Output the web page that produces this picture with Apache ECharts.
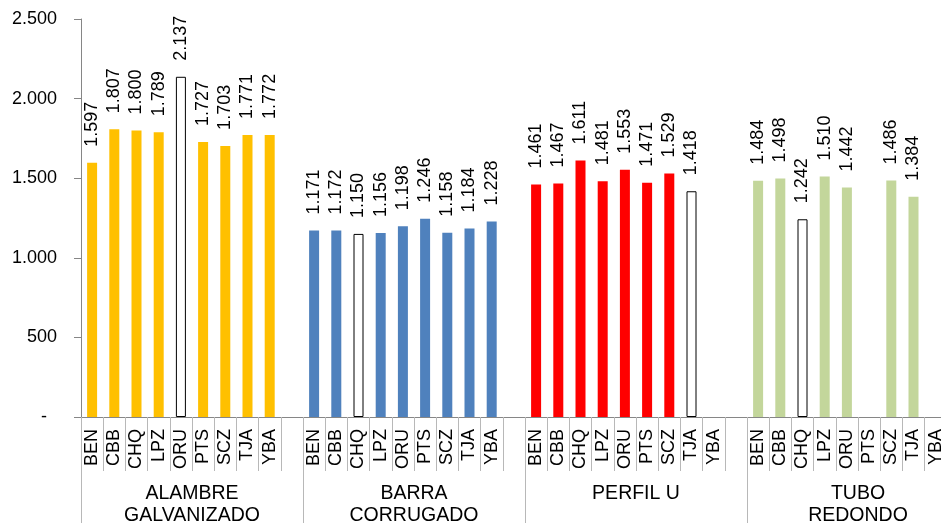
<!DOCTYPE html>
<html>
<head>
<meta charset="utf-8">
<script src="https://cdn.jsdelivr.net/npm/echarts@6/dist/echarts.min.js"></script>
<style>html,body{margin:0;padding:0;background:#fff;overflow:hidden}#c{width:969px;height:527px}</style>
</head>
<body>
<div id="c"></div>
<script>
const cities = ['BEN','CBB','CHQ','LPZ','ORU','PTS','SCZ','TJA','YBA'];
const groups = ['ALAMBRE\nGALVANIZADO','BARRA\nCORRUGADO','PERFIL U','TUBO\nREDONDO'];
const alambre = [1597,1807,1800,1789,2137,1727,1703,1771,1772];
const barra   = [1171,1172,1150,1156,1198,1246,1158,1184,1228];
const perfil  = [1461,1467,1611,1481,1553,1471,1529,1418,null];
const tubo    = [1484,1498,1242,1510,1442,null,1486,1384,null];
const highlighted = [['ORU'],['CHQ'],['TJA'],['CHQ']];
const groupColors = ['#FFC000','#4F81BD','#FF0000','#C3D69B'];
const yTicks = [0,500,1000,1500,2000,2500];

const seriesValues = [alambre, barra, perfil, tubo];
const cats = [];
const barData = [];
seriesValues.forEach((vals, gi) => {
  cities.forEach((c, ci) => {
    cats.push(c);
    const isWhite = highlighted[gi].indexOf(c) >= 0;
    barData.push({
      value: vals[ci],
      itemStyle: isWhite
        ? {color:'#ffffff', borderColor:'#000000', borderWidth:1}
        : {color: groupColors[gi]}
    });
  });
  cats.push('');
  barData.push({value:null});
});

function fmt(v){
  const s = String(Math.round(v));
  return s.length > 3 ? s.slice(0,-3) + '.' + s.slice(-3) : s;
}

const FONT = 'Liberation Sans, Arial, sans-serif';
const chart = echarts.init(document.getElementById('c'), null, {renderer:'canvas'});
chart.setOption({
  animation:false,
  backgroundColor:'#ffffff',
  grid:{left:81, right:0, top:19, bottom:106, containLabel:false},
  xAxis:[{
    type:'category', data:cats, gridIndex:0,
    axisLine:{show:true, lineStyle:{color:'#868686', width:1}},
    axisTick:{show:true, interval:0, length:54, lineStyle:{color:'#b8b8b8'}},
    axisLabel:{interval:0, rotate:90, margin:12, fontSize:18, fontFamily:FONT, color:'#000'},
    splitLine:{show:false}
  },{
    type:'category', data:groups, gridIndex:0, position:'bottom',
    axisLine:{show:false},
    axisTick:{show:true, interval:0, length:106, lineStyle:{color:'#b8b8b8'}},
    axisLabel:{interval:0, margin:66, fontSize:19.5, lineHeight:22, fontFamily:FONT, color:'#000', align:'center'},
    splitLine:{show:false}
  }],
  yAxis:{
    type:'value', min:yTicks[0], max:yTicks[yTicks.length-1], interval:500,
    axisLine:{show:true, lineStyle:{color:'#868686'}},
    axisTick:{show:true, length:7, lineStyle:{color:'#868686'}},
    splitLine:{show:false},
    axisLabel:{
      margin:24, fontSize:18, fontFamily:FONT, color:'#000',
      formatter: v => v === 0 ? '{d|-}' : fmt(v),
      rich:{d:{fontSize:18, fontFamily:FONT, color:'#000', padding:[0,10,0,0]}}
    }
  },
  series:[{
    type:'bar', xAxisIndex:0, yAxisIndex:0, data:barData, barWidth:10, clip:false,
    label:{
      show:true, position:'top', rotate:90, align:'left', verticalAlign:'middle',
      distance:16, fontSize:18, fontFamily:FONT, color:'#000',
      formatter: p => p.value == null ? '' : fmt(p.value)
    }
  }]
});
</script>
</body>
</html>
